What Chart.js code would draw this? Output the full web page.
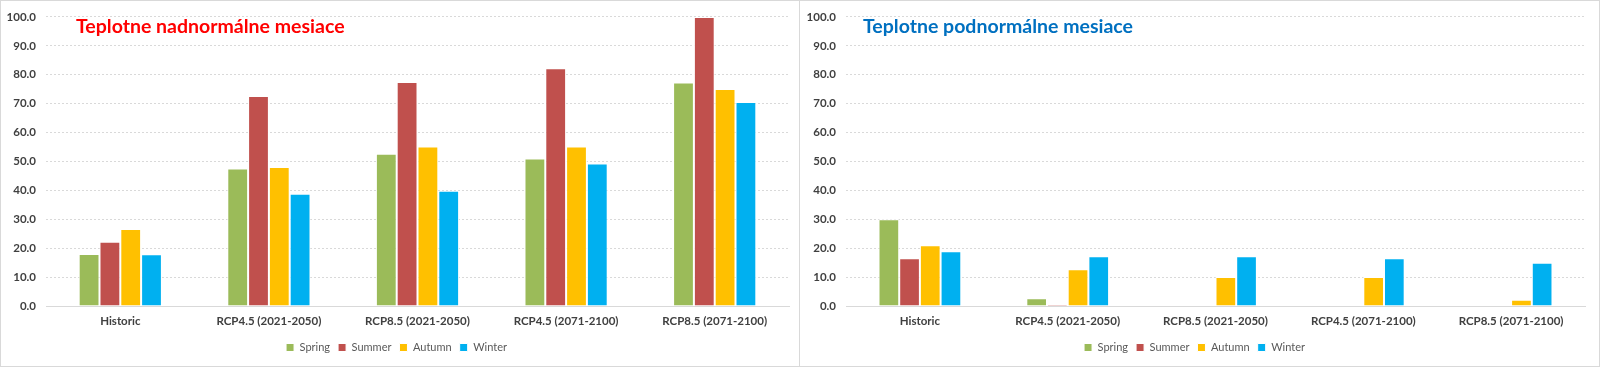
<!DOCTYPE html>
<html>
<head>
<meta charset="utf-8">
<script src="https://cdn.jsdelivr.net/npm/chart.js@4.4.1/dist/chart.umd.min.js"></script>
<style>
  html, body { margin: 0; padding: 0; background: #fff; }
  body { width: 1600px; height: 367px; position: relative; overflow: hidden; }
  .wrap { position: absolute; top: 0; width: 800px; height: 367px; }
  .wrap canvas { display: block; }
  .frame { position: absolute; border: 1px solid #d9d9d9; box-sizing: border-box; pointer-events: none; }
</style>
</head>
<body>
<div class="wrap" style="left:0"><canvas id="c1" width="800" height="367"></canvas></div>
<div class="wrap" style="left:800px"><canvas id="c2" width="800" height="367"></canvas></div>
<div class="frame" style="left:0;top:0;width:800px;height:367px"></div>
<div class="frame" style="left:799px;top:0;width:801px;height:367px"></div>
<script>
const categories = ["Historic", "RCP4.5 (2021-2050)", "RCP8.5 (2021-2050)", "RCP4.5 (2071-2100)", "RCP8.5 (2071-2100)"];
const seriesNames = ["Spring", "Summer", "Autumn", "Winter"];
const seriesColors = ["#9BBB59", "#C0504D", "#FFC000", "#00B0F0"];

// Teplotne nadnormálne mesiace
const aboveSpring = [18.0, 47.6, 52.7, 51.0, 77.3];
const aboveSummer = [22.2, 72.6, 77.5, 82.2, 100.0];
const aboveAutumn = [26.6, 48.1, 55.2, 55.2, 75.1];
const aboveWinter = [17.9, 38.8, 39.9, 49.3, 70.6];

// Teplotne podnormálne mesiace
const belowSpring = [30.0, 2.7, 0.0, 0.0, 0.0];
const belowSummer = [16.5, 0.5, 0.0, 0.0, 0.0];
const belowAutumn = [21.0, 12.7, 10.0, 10.0, 2.2];
const belowWinter = [18.9, 17.2, 17.2, 16.5, 15.0];

const yMin = 0, yMax = 100, yStep = 10;
const titleAbove = "Teplotne nadnormálne mesiace";
const titleBelow = "Teplotne podnormálne mesiace";

const panelTitle = {
  id: 'panelTitle',
  afterDraw(chart, args, opts) {
    const ctx = chart.ctx;
    ctx.save();
    ctx.font = 'bold 19.5px Lato, "Open Sans", sans-serif';
    ctx.fillStyle = opts.color;
    ctx.textBaseline = 'middle';
    ctx.textAlign = 'left';
    ctx.fillText(opts.text, opts.x, opts.y);
    ctx.restore();
  }
};

function makeChart(id, dataArrays, title, titleColor, titleX, area) {
  const state = { xH: 24 };
  const datasets = dataArrays.map((arr, i) => ({
    label: seriesNames[i],
    data: arr,
    backgroundColor: seriesColors[i],
    borderColor: '#ffffff',
    borderWidth: 1,
    categoryPercentage: 0.56,
    barPercentage: 1.0
  }));
  const chart = new Chart(document.getElementById(id), {
    type: 'bar',
    data: { labels: categories, datasets },
    plugins: [panelTitle],
    options: {
      responsive: false,
      animation: false,
      layout: { padding: { left: 4, right: 10, top: 15, bottom: 4 } },
      scales: {
        x: {
          grid: { display: false, drawTicks: false },
          border: { display: true, color: '#d9d9d9', width: 1 },
          ticks: { color: '#404040', font: { family: 'Lato, "Open Sans", sans-serif', size: 11.5, weight: 'bold' }, padding: 8, maxRotation: 0 },
          afterFit(scale) { scale.height = state.xH; }
        },
        y: {
          min: yMin, max: yMax,
          grid: { color: '#d9d9d9', drawTicks: false },
          border: { display: false, dash: [2, 2] },
          ticks: { stepSize: yStep, color: '#404040', padding: 10,
                   font: { family: 'Lato, "Open Sans", sans-serif', size: 11.5, weight: 'bold' },
                   callback: v => Number(v).toFixed(1) },
          afterFit(scale) { scale.width = 42; }
        }
      },
      plugins: {
        legend: {
          position: 'bottom',
          labels: { boxWidth: 8, boxHeight: 8, padding: 8, color: '#595959',
                    font: { family: 'Lato, "Open Sans", sans-serif', size: 11 } }
        },
        tooltip: { enabled: false },
        panelTitle: { text: title, color: titleColor, x: titleX, y: 27 }
      }
    }
  });
  // align the plot area with the reference layout
  for (let k = 0; k < 5; k++) {
    const a = chart.chartArea;
    const p = chart.config.options.layout.padding;
    const dt = area.top - a.top, dl = area.left - a.left;
    const dr = a.right - area.right, db = a.bottom - area.bottom;
    if (Math.abs(dt) + Math.abs(dl) + Math.abs(dr) + Math.abs(db) < 0.5) break;
    p.top += dt; p.left += dl; p.right += dr; state.xH += db;
    chart.update('none');
  }
  return chart;
}

makeChart('c1', [aboveSpring, aboveSummer, aboveAutumn, aboveWinter], titleAbove, '#FF0000', 76,
          { left: 46, right: 789, top: 15, bottom: 306 });
makeChart('c2', [belowSpring, belowSummer, belowAutumn, belowWinter], titleBelow, '#0070C0', 63,
          { left: 46, right: 785, top: 15, bottom: 306 });
</script>
</body>
</html>
